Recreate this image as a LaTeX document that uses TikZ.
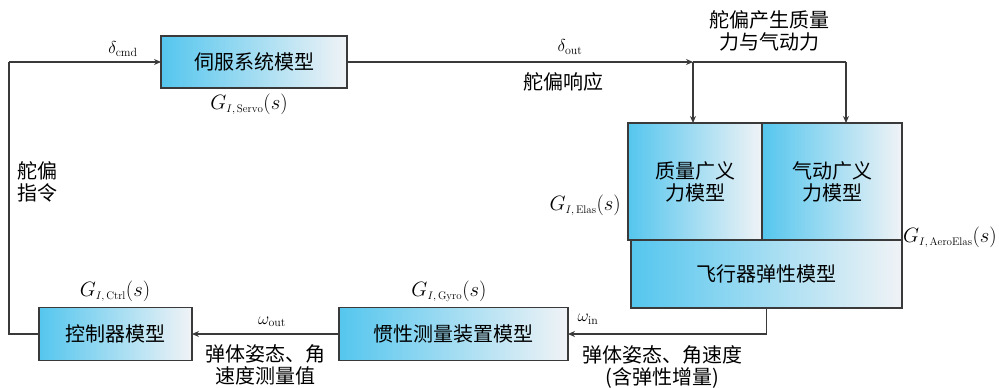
\documentclass[tikz,border=0pt]{standalone}
\usepackage{fontspec}
\newfontfamily\cjk{Noto Sans CJK SC}
\usetikzlibrary{arrows.meta,calc}
\definecolor{edge}{HTML}{3A3A3A}
\definecolor{bleft}{HTML}{55C6EE}
\definecolor{bright}{HTML}{F0F3F6}
\newcommand{\gsub}[1]{G_{\scriptscriptstyle I,\mskip3mu\mathrm{#1}}(s)}
\begin{document}
\begin{tikzpicture}[x=1pt,y=-1pt,
  blk/.style={draw=edge,line width=1.1pt,left color=bleft,right color=bright,
    inner sep=0pt,outer sep=0pt,align=center,font=\cjk\fontsize{20}{22}\selectfont},
  arr/.style={draw=edge,line width=1.1pt,-{Stealth[length=7pt,width=6pt]}},
  ln/.style={draw=edge,line width=1.1pt},
  cj/.style={inner sep=0pt,align=center,font=\cjk\fontsize{20}{22}\selectfont},
  gl/.style={inner sep=0pt,font=\fontsize{22}{24}\selectfont},
  sym/.style={inner sep=0pt,font=\fontsize{17}{20}\selectfont}]
\useasboundingbox (0,0) rectangle (999,388);
% blocks
\node[blk,minimum width=186pt,minimum height=52pt] (servo) at (254,62) {伺服系统模型};
\node[blk,minimum width=134pt,minimum height=117pt] (mass) at (695,181.5) {质量广义\\力模型};
\node[blk,minimum width=140pt,minimum height=117pt] (aero) at (832,181.5) {气动广义\\力模型};
\node[blk,minimum width=271pt,minimum height=68pt] (elas) at (766.5,274) {飞行器弹性模型};
\node[blk,minimum width=229pt,minimum height=53pt] (gyro) at (453.5,334) {惯性测量装置模型};
\node[blk,minimum width=153pt,minimum height=53pt] (ctrl) at (115.5,334) {控制器模型};
% coordinates
\coordinate (lc) at (9,62);
\coordinate (jn) at (693,62);
\coordinate (rc) at (846,62);
% connectors
\draw[ln] (ctrl.west) -| (lc);
\draw[arr] (lc) -- (servo.west);
\draw[arr] (servo.east) -- (jn);
\draw[ln] (jn) -- (rc);
\draw[arr] (jn) -- (jn |- mass.north);
\draw[arr] (rc) -- (rc |- aero.north);
\draw[arr] (elas.south) |- (gyro.east);
\draw[arr] (gyro.west) -- (ctrl.east);
% labels
\node[sym] (dcmd) at (123,49) {$\delta_{\mathrm{cmd}}$};
\node[sym] (dout) at (570,47) {$\delta_{\mathrm{out}}$};
\node[gl] (gservo) at (249,104) {$\gsub{Servo}$};
\node[gl,anchor=east] (gelas) at (621,205) {$\gsub{Elas}$};
\node[gl,anchor=east] (gaero) at (997,237) {$\gsub{AeroElas}$};
\node[gl] (gctrl) at (115,291) {$\gsub{Ctrl}$};
\node[gl] (ggyro) at (449,291) {$\gsub{Gyro}$};
\node[sym] (win) at (588,319) {$\omega_{\mathrm{in}}$};
\node[sym] (wout) at (272,322) {$\omega_{\mathrm{out}}$};
\node[cj] (resp) at (563,82) {舵偏响应};
\node[cj] (force) at (769,31) {舵偏产生质量\\力与气动力};
\node[cj,align=left] (cmd) at (37,182) {舵偏\\指令};
\node[cj] (meas) at (265,365) {弹体姿态、角\\速度测量值};
\node[cj] (att) at (662,367) {弹体姿态、角速度\\(含弹性增量)};
\end{tikzpicture}
\end{document}
